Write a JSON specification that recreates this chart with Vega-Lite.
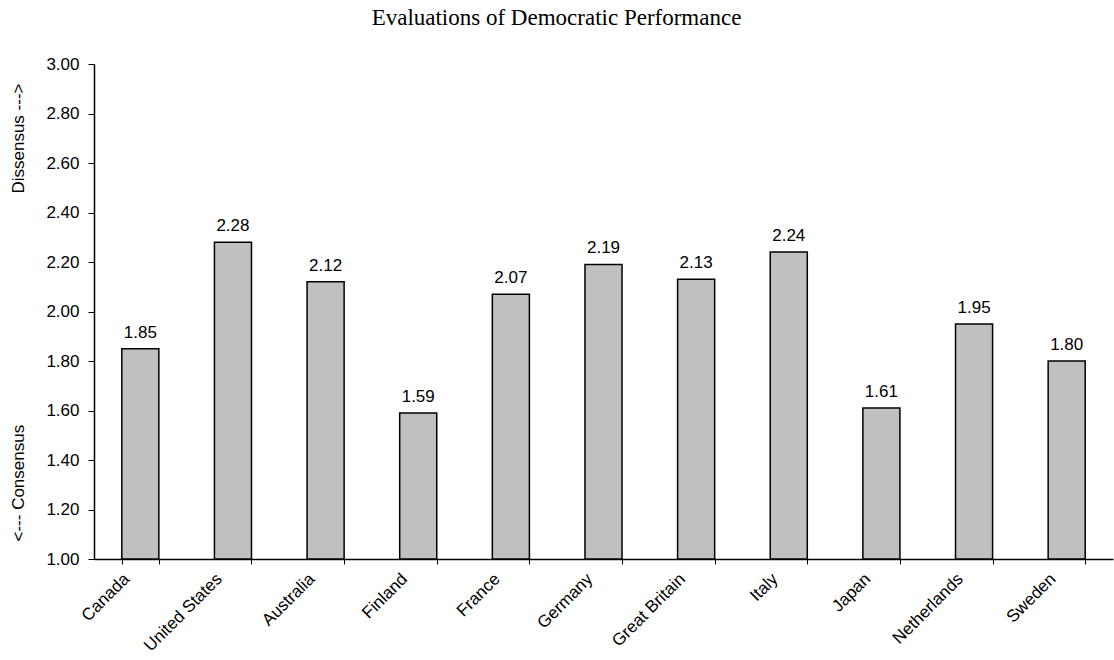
{
  "$schema": "https://vega.github.io/schema/vega-lite/v6.json",
  "autosize": {"type": "none"},
  "width": 1019,
  "height": 495,
  "padding": {"left": 94, "top": 64, "right": 1, "bottom": 101},
  "background": "white",
  "title": {
    "text": "Evaluations of Democratic Performance",
    "font": "Liberation Serif",
    "fontSize": 23,
    "fontWeight": "normal",
    "color": "black",
    "anchor": "middle",
    "frame": "group",
    "dx": -47,
    "offset": 25
  },
  "config": {
    "view": {"stroke": null},
    "axis": {
      "labelFont": "Liberation Sans",
      "titleFont": "Liberation Sans",
      "labelColor": "black",
      "titleColor": "black",
      "domainColor": "black",
      "tickColor": "black",
      "grid": false
    },
    "text": {"font": "Liberation Sans"}
  },
  "data": {
    "values": [
      {"country": "Canada", "score": 1.85},
      {"country": "United States", "score": 2.28},
      {"country": "Australia", "score": 2.12},
      {"country": "Finland", "score": 1.59},
      {"country": "France", "score": 2.07},
      {"country": "Germany", "score": 2.19},
      {"country": "Great Britain", "score": 2.13},
      {"country": "Italy", "score": 2.24},
      {"country": "Japan", "score": 1.61},
      {"country": "Netherlands", "score": 1.95},
      {"country": "Sweden", "score": 1.80}
    ]
  },
  "encoding": {
    "x": {
      "field": "country",
      "type": "nominal",
      "sort": null,
      "scale": {"paddingInner": 0.6, "paddingOuter": 0.3},
      "axis": {
        "title": null,
        "tickBand": "extent",
        "tickSize": 5,
        "labelAngle": -45,
        "labelAlign": "right",
        "labelBaseline": "middle",
        "labelFontSize": 17,
        "labelOffset": -14,
        "labelPadding": 12,
        "domainWidth": 1.5
      }
    }
  },
  "layer": [
    {
      "mark": {"type": "bar", "fill": "#c0c0c0", "stroke": "black", "strokeWidth": 1.5},
      "encoding": {
        "y": {
          "field": "score",
          "type": "quantitative",
          "scale": {"domain": [1, 3], "zero": false, "nice": false},
          "axis": {
            "orient": "left",
            "title": "<--- Consensus",
            "titleFontSize": 17,
            "titleFontWeight": "normal",
            "titleAngle": -90,
            "titleAnchor": "start",
            "titleAlign": "left",
            "titleBaseline": "alphabetic",
            "titleX": -71,
            "titleY": 477,
            "values": [1, 1.2, 1.4, 1.6, 1.8, 2, 2.2, 2.4, 2.6, 2.8, 3],
            "format": ".2f",
            "labelFontSize": 17,
            "labelPadding": 9,
            "tickSize": 6,
            "domainWidth": 1.5
          }
        },
        "y2": {"datum": 1}
      }
    },
    {
      "mark": {"type": "text", "baseline": "alphabetic", "dy": -11, "fontSize": 17, "color": "black"},
      "encoding": {
        "y": {
          "field": "score",
          "type": "quantitative",
          "scale": {"domain": [1, 3], "zero": false, "nice": false},
          "axis": {
            "orient": "left",
            "title": "Dissensus --->",
            "titleFontSize": 17,
            "titleFontWeight": "normal",
            "titleAngle": -90,
            "titleAnchor": "end",
            "titleAlign": "right",
            "titleBaseline": "alphabetic",
            "titleX": -71,
            "titleY": 19,
            "labels": false,
            "ticks": false,
            "domain": false
          }
        },
        "text": {"field": "score", "type": "quantitative", "format": ".2f"}
      }
    }
  ],
  "resolve": {"scale": {"y": "shared"}, "axis": {"y": "independent"}}
}
